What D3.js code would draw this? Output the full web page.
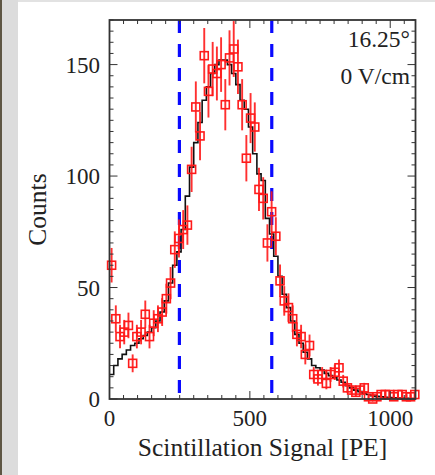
<!DOCTYPE html>
<html lang="en">
<head>
  <meta charset="UTF-8">
  <title>Scintillation Signal</title>
  <script src="https://d3js.org/d3.v7.min.js"></script>
  <style>
    body { margin: 0; background: #fff; }
    text { font-family: "Liberation Serif", "Times New Roman", serif; fill: #222; }
  </style>
</head>
<body>
  <script>
    // Bin width of the histograms (PE)
    const binWidth = 15;

    // Measured counts per bin (red squares), bins start at 0
    const dataCounts = [
      60, 36, 28, 30, 33, 16, 28, 30, 38, 28,
      34, 36, 39, 45, 52, 67, 72, 76, 78, 103,
      131, 118, 154, 138, 148, 146, 150, 132, 153, 157,
      149, 132, 108, 126, 122, 94, 90, 70, 84, 73,
      53, 44, 41, 36, 29, 28, 20, 24, 11, 9,
      11, 7, 11, 12, 14, 8, 5, 4, 3, 4,
      5, 1, 0, 1, 2, 2, 2, 1, 2, 2,
      1, 1, 2
    ];

    // Simulated spectrum (black step line), same bins
    const simCounts = [
      11, 15, 18, 20, 22, 24, 25, 27, 28.5, 30,
      32, 35, 39, 44, 52, 60, 66, 76, 91, 104,
      115, 124, 134, 140, 146, 150, 152, 152, 150, 146,
      141, 134, 130, 122, 110, 101, 98, 81, 74, 64,
      55, 47, 41, 35, 29, 25, 21, 18, 15, 14,
      13, 11.5, 10.5, 9.5, 8.5, 7.5, 6, 5, 4, 3.3,
      2.5, 2, 1.5, 1.2, 1, 0.8, 0.6, 0.5, 0.4, 0.3,
      0.3, 0.2, 0.2
    ];

    // Selection cuts (blue dashed lines)
    const cuts = [249, 578];

    const xTicks = [0, 500, 1000];
    const yTicks = [0, 50, 100, 150];
    const labels = ["16.25°", "0 V/cm"];

    const width = 435, height = 475;
    const pLeft = 109.5, pRight = 415.5, pTop = 20, pBottom = 399;

    const svg = d3.select("body").append("svg")
      .attr("width", width)
      .attr("height", height);

    // page edges of the original screenshot
    svg.append("rect").attr("x", 0).attr("y", 0).attr("width", width).attr("height", 2).attr("fill", "#e2e2e2");
    svg.append("rect").attr("x", 0).attr("y", 0).attr("width", 18).attr("height", height).attr("fill", "#dcdcdc");
    svg.append("rect").attr("x", 0).attr("y", 0).attr("width", 2).attr("height", height).attr("fill", "#5e5644");

    const x = d3.scaleLinear().domain([0, 1090]).range([pLeft, pRight]);
    const y = d3.scaleLinear().domain([0, 170]).range([pBottom, pTop]);

    // blue dashed cut lines
    svg.selectAll(".cut")
      .data(cuts)
      .enter()
      .append("line")
      .attr("x1", d => x(d)).attr("x2", d => x(d))
      .attr("y1", pTop).attr("y2", pBottom)
      .attr("stroke", "#0a0aff")
      .attr("stroke-width", 3.2)
      .attr("stroke-dasharray", "13,11");

    // simulated step histogram
    const simPts = simCounts.map((v, i) => [i * binWidth, v]);
    simPts.push([simCounts.length * binWidth, simCounts[simCounts.length - 1]]);
    svg.append("path")
      .datum(simPts)
      .attr("fill", "none")
      .attr("stroke", "#111")
      .attr("stroke-width", 1.6)
      .attr("d", d3.line()
        .x(d => x(Math.min(d[0], 1090)))
        .y(d => y(d[1]))
        .curve(d3.curveStepAfter));

    // data points with error bars
    const pts = dataCounts.map((v, i) => ({ x: i * binWidth + binWidth / 2, y: v, e: Math.sqrt(v) }));
    const red = "#ff1a1a";
    svg.selectAll(".err")
      .data(pts)
      .enter()
      .append("line")
      .attr("x1", d => x(d.x)).attr("x2", d => x(d.x))
      .attr("y1", d => y(d.y - d.e)).attr("y2", d => y(d.y + d.e))
      .attr("stroke", red)
      .attr("stroke-width", 1.9)
      .attr("opacity", 0.9);
    const s = 8;
    svg.selectAll(".pt")
      .data(pts)
      .enter()
      .append("rect")
      .attr("x", d => x(d.x) - s / 2)
      .attr("y", d => y(d.y) - s / 2)
      .attr("width", s).attr("height", s)
      .attr("fill", "none")
      .attr("stroke", red)
      .attr("stroke-width", 1.6);

    // ticks on all four sides, pointing inward
    const axisColor = "#333";
    const g = svg.append("g").attr("stroke", axisColor).attr("stroke-width", 1);
    d3.range(0, 1091, 50).forEach(v => {
      const len = v % 500 === 0 ? 8 : 4;
      g.append("line").attr("x1", x(v)).attr("x2", x(v)).attr("y1", pBottom).attr("y2", pBottom - len);
      g.append("line").attr("x1", x(v)).attr("x2", x(v)).attr("y1", pTop).attr("y2", pTop + len);
    });
    d3.range(0, 171, 5).forEach(v => {
      const len = v % 50 === 0 ? 8 : 4;
      g.append("line").attr("x1", pLeft).attr("x2", pLeft + len).attr("y1", y(v)).attr("y2", y(v));
      g.append("line").attr("x1", pRight).attr("x2", pRight - len).attr("y1", y(v)).attr("y2", y(v));
    });

    // frame
    svg.append("rect")
      .attr("x", pLeft).attr("y", pTop)
      .attr("width", pRight - pLeft).attr("height", pBottom - pTop)
      .attr("fill", "none")
      .attr("stroke", axisColor)
      .attr("stroke-width", 1.8);

    // tick labels
    svg.selectAll(".xt")
      .data(xTicks)
      .enter()
      .append("text")
      .attr("x", d => x(d))
      .attr("y", 426)
      .attr("text-anchor", "middle")
      .attr("font-size", 23)
      .text(d => d);
    svg.selectAll(".yt")
      .data(yTicks)
      .enter()
      .append("text")
      .attr("x", 100)
      .attr("y", d => y(d) + 8)
      .attr("text-anchor", "end")
      .attr("font-size", 23)
      .text(d => d);

    // axis titles
    svg.append("text")
      .attr("x", (pLeft + pRight) / 2)
      .attr("y", 456)
      .attr("text-anchor", "middle")
      .attr("font-size", 25.5)
      .text("Scintillation Signal [PE]");
    svg.append("text")
      .attr("transform", `translate(46,${(pTop + pBottom) / 2}) rotate(-90)`)
      .attr("text-anchor", "middle")
      .attr("font-size", 25.5)
      .text("Counts");

    // annotations
    svg.selectAll(".note")
      .data(labels)
      .enter()
      .append("text")
      .attr("x", 410)
      .attr("y", (d, i) => 47 + i * 37)
      .attr("text-anchor", "end")
      .attr("font-size", 23.5)
      .text(d => d);
  </script>
</body>
</html>
